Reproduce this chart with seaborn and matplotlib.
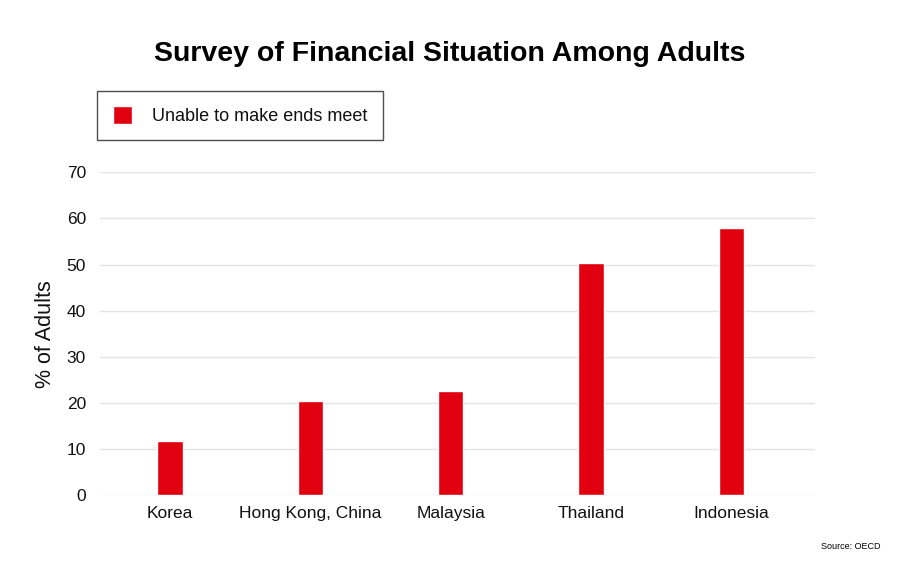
import matplotlib
matplotlib.use('Agg')

import pandas as pd
import matplotlib.pyplot as plt
import seaborn as sns

# data
countries = ['Korea', 'Hong Kong, China', 'Malaysia', 'Thailand', 'Indonesia']
unable_pct = [11.8, 20.3, 22.6, 50.4, 58.0]
y_ticks = [0, 10, 20, 30, 40, 50, 60, 70]

df = pd.DataFrame({'country': countries, 'pct': unable_pct})

sns.set_theme(style='white')
plt.rcParams['font.family'] = ['Liberation Sans', 'DejaVu Sans']
plt.rcParams['text.color'] = '#000000'

fig = plt.figure(figsize=(9, 5.68), dpi=100)
ax = fig.add_axes([0.111, 0.1285, 0.795, 0.568])

sns.barplot(data=df, x='country', y='pct', color='#e0000f', width=0.18,
            saturation=1, ax=ax, label='Unable to make ends meet')

ax.set_ylim(0, 70)
ax.set_xlim(-0.5, 4.6)
ax.set_yticks(y_ticks)
ax.yaxis.grid(True, color='#e4e4e4', linewidth=1)
ax.set_axisbelow(True)
for s in ax.spines.values():
    s.set_visible(False)
ax.tick_params(axis='y', length=0, labelsize=12.5, colors='#111111', pad=10)
ax.tick_params(axis='x', length=0, labelsize=12.5, colors='#111111', pad=8)
ax.set_xlabel('')
ax.set_ylabel('% of Adults', fontsize=15.5, labelpad=8, color='#111111')

fig.text(0.5, 0.905, 'Survey of Financial Situation Among Adults',
         ha='center', va='center', fontsize=20.5, fontweight='bold',
         color='#000000')

handles, labels = ax.get_legend_handles_labels()
leg = fig.legend(handles, labels, loc='upper left',
                 bbox_to_anchor=(0.108, 0.84), fontsize=13,
                 handlelength=1.1, handleheight=1.1, handletextpad=1.1,
                 borderpad=0.85, borderaxespad=0, fancybox=False,
                 frameon=True, labelcolor='#111111')
leg.get_frame().set_edgecolor('#222222')
leg.get_frame().set_linewidth(1)
if ax.get_legend():
    ax.get_legend().remove()

fig.text(0.978, 0.038, 'Source: OECD', ha='right', va='center', fontsize=6.5)

fig.savefig('out.png', dpi=100)
